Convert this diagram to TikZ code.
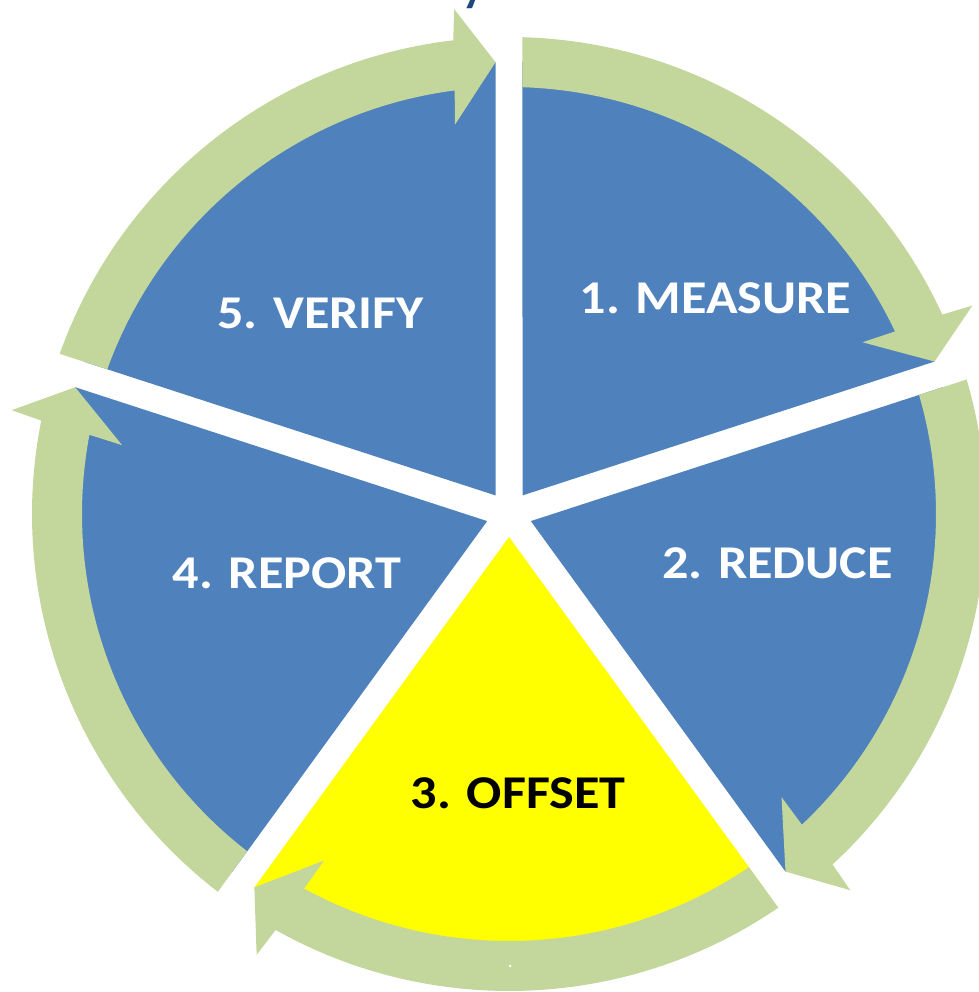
\documentclass[tikz,border=0pt]{standalone}
\usepackage{graphicx}
\usepackage{fontspec}
\setmainfont{Carlito}
\definecolor{segblue}{RGB}{79,129,189}
\definecolor{ringgreen}{RGB}{195,214,155}
\definecolor{segyellow}{RGB}{255,255,0}
\definecolor{titleblue}{RGB}{31,73,125}
% labels are set a little wide
\newcommand\widetext[1]{\scalebox{1.11}[1]{#1}}

\begin{document}
\begin{tikzpicture}[x=1pt,y=1pt,
  steplabel/.style={font=\fontsize{47}{50}\selectfont\bfseries, text=white, inner sep=0pt},
  cyclearrow/.style={fill=ringgreen},
]
\useasboundingbox (0,0) rectangle (978,992);

% descender of the title line running off the top edge
\node[font=\fontsize{46}{50}\selectfont\bfseries, text=titleblue, anchor=base west, inner sep=0pt]
  (title) at (462,990) {y};

\begin{scope}[shift={(509,478)}]
  % five pie wedges separated by straight white gaps
  \foreach \g/\c in {90/segblue, 18/segblue, -54/segyellow, -126/segblue, 162/segblue} {
    \pgfmathsetmacro\wa{\g-1.71}
    \pgfmathsetmacro\wb{\g-72+1.71}
    \pgfmathsetmacro\wm{\g-36}
    \fill[\c] (\wm:22.97pt) -- (\wa:452pt)
      arc[start angle=\wa, end angle=\wb, radius=452pt] -- cycle;
  }
  % curved arrows running clockwise round the rim
  \foreach \g in {90, 18, -54, -126, 162} {
    \pgfmathsetmacro\so{\g-1.62}
    \pgfmathsetmacro\si{\g-1.81}
    \pgfmathsetmacro\tp{\g-72+1.71}
    \pgfmathsetmacro\no{\tp+5.0}
    \pgfmathsetmacro\bo{\tp+4.5}
    \pgfmathsetmacro\bi{\tp+6.2}
    \pgfmathsetmacro\ni{\tp+5.6}
    \fill[cyclearrow] (\so:477pt)
      arc[start angle=\so, end angle=\no, radius=477pt]
      -- (\bo:508pt) -- (\tp:452pt) -- (\bi:393pt) -- (\ni:427pt)
      arc[start angle=\ni, end angle=\si, radius=427pt] -- cycle;
  }
  \fill[white] (1,-452) circle[radius=1.5pt];
\end{scope}

\node[steplabel] (s1) at (715.5,694) {\widetext{1. MEASURE}};
\node[steplabel] (s2) at (777.5,429) {\widetext{2. REDUCE}};
\node[steplabel, text=black] (s3) at (518,199) {\widetext{3. OFFSET}};
\node[steplabel] (s4) at (287,418.5) {\widetext{4. REPORT}};
\node[steplabel] (s5) at (320.5,679) {\widetext{5. VERIFY}};
\end{tikzpicture}
\end{document}
